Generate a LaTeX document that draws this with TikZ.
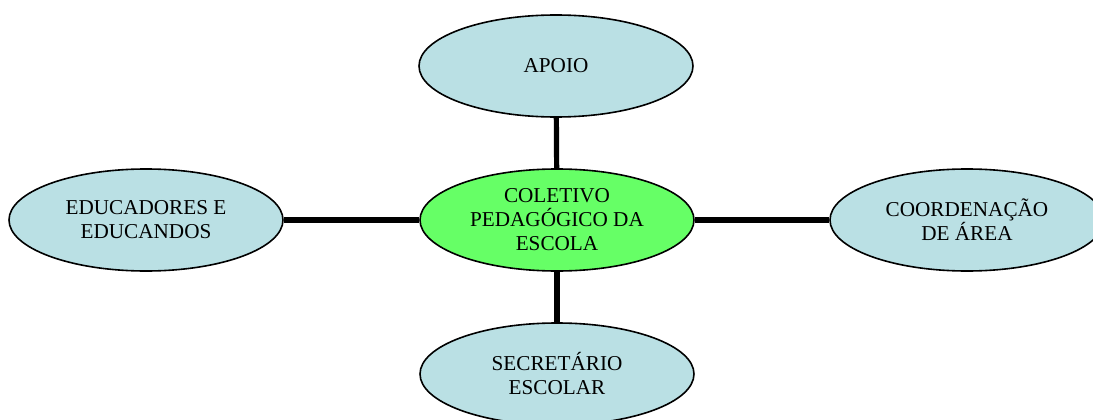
\documentclass[tikz,border=0pt]{standalone}
\usepackage{fontspec}
\setmainfont{Liberation Serif}
\usetikzlibrary{shapes.geometric}
\definecolor{caixaazul}{RGB}{186,224,228}
\definecolor{caixaverde}{RGB}{102,255,102}
\begin{document}
\begin{tikzpicture}[x=0.5pt, y=0.5pt,
        bloco/.style={ellipse, draw=black, line width=0.8pt, fill=caixaazul, minimum width=137pt, minimum height=51pt, inner sep=0pt, align=center, font=\fontsize{10.6}{12}\selectfont},
        elo/.style={line width=2.6pt}]
        \useasboundingbox (0,0) rectangle (1093,419);
        \clip (0,0) rectangle (1093,419);
        \node[bloco, fill=caixaverde] (coletivo) at (557,199) {COLETIVO\\PEDAGÓGICO DA\\ESCOLA};
        \node[bloco] (apoio) at (556,353) {APOIO};
        \node[bloco] (educadores) at (146,199) {EDUCADORES E\\EDUCANDOS};
        \node[bloco] (coordenacao) at (967,199) {COORDENAÇÃO\\DE ÁREA};
        \node[bloco] (secretario) at (557,45) {SECRETÁRIO\\ESCOLAR};
        \draw[elo] (apoio) -- (coletivo);
        \draw[elo] (coletivo) -- (educadores);
        \draw[elo] (coletivo) -- (coordenacao);
        \draw[elo] (coletivo) -- (secretario);
    \end{tikzpicture}
\end{document}
